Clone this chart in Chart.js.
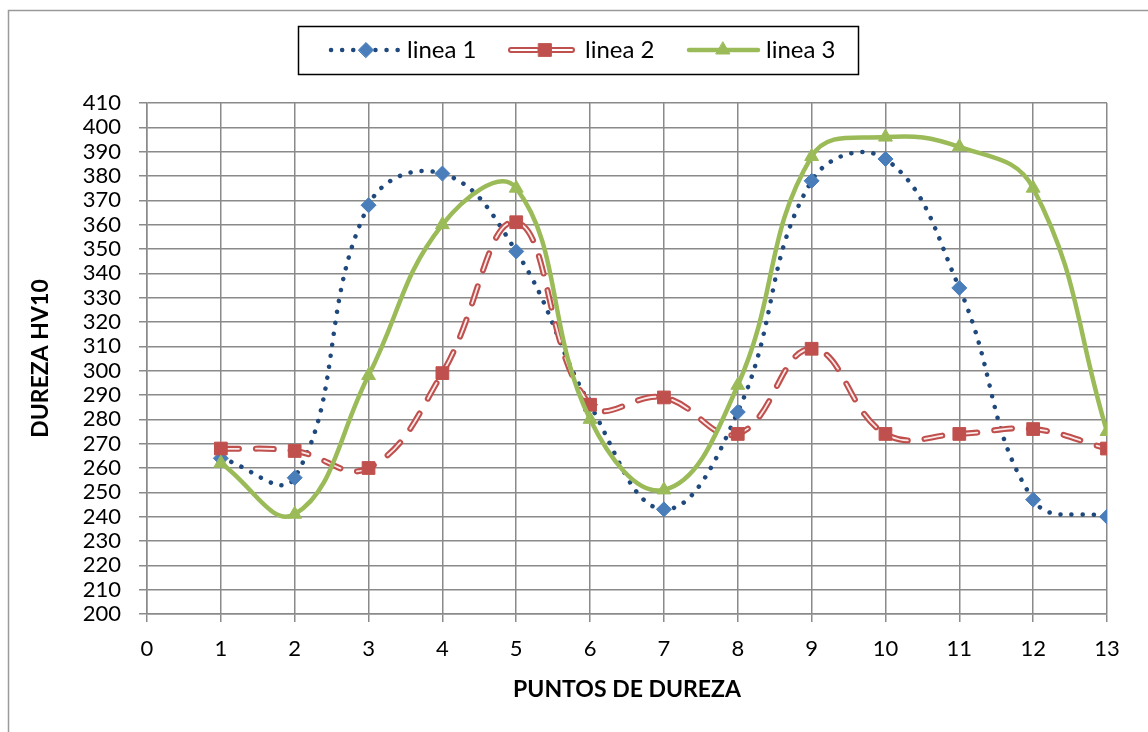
<!DOCTYPE html>
<html>
<head>
<meta charset="utf-8">
<script src="https://cdn.jsdelivr.net/npm/chart.js"></script>
<style>
  body { margin: 0; background: #fff; }
  #wrap { width: 1148px; height: 732px; }
</style>
</head>
<body>
<div id="wrap"><canvas id="durezaChart" width="1148" height="732"></canvas></div>
<script>
// puntos de dureza (eje x) y valores HV10
const puntos = [1, 2, 3, 4, 5, 6, 7, 8, 9, 10, 11, 12, 13];
const linea1 = [264, 256, 368, 381, 349, 286, 243, 283, 378, 387, 334, 247, 240];
const linea2 = [268, 267, 260, 299, 361, 286, 289, 274, 309, 274, 274, 276, 268];
const linea3 = [262, 241, 298, 360, 375, 280, 251, 294, 388, 396, 392, 375, 275];
const serieNames = ['linea 1', 'linea 2', 'linea 3'];

const xTicks = { min: 0, max: 13, step: 1 };
const yTicks = { min: 200, max: 410, step: 10 };

const FONT = 'Lato, "Open Sans", sans-serif';
const GRID = '#8a8a8a';
const BLUE_LINE = '#1F497D';
const BLUE_MARK = '#4A7EBB';
const RED = '#C0504D';
const GREEN = '#9BBB59';
const SMOOTH = 0.42;

function pts(values) {
    return values.map((v, i) => ({ x: puntos[i], y: v }));
}

// frame around the whole chart + boxed legend like excel
const excelLook = {
    id: 'excelLook',
    beforeDraw(chart) {
        const ctx = chart.ctx;
        ctx.save();
        ctx.fillStyle = '#fff';
        ctx.fillRect(0, 0, chart.width, chart.height);
        ctx.strokeStyle = '#9a9a9a';
        ctx.lineWidth = 1.5;
        ctx.strokeRect(8.5, 10.5, 1400, 900);
        ctx.restore();
    },
    afterDraw(chart) {
        const ctx = chart.ctx;
        const y = 50;
        ctx.save();
        ctx.strokeStyle = '#000';
        ctx.lineWidth = 1.5;
        ctx.strokeRect(298.5, 26.5, 560, 48);

        // linea 1
        ctx.strokeStyle = BLUE_LINE;
        ctx.lineWidth = 4.5;
        ctx.lineCap = 'round';
        ctx.setLineDash([0.1, 11]);
        ctx.beginPath(); ctx.moveTo(331, y); ctx.lineTo(398, y); ctx.stroke();
        ctx.setLineDash([]);
        ctx.fillStyle = BLUE_MARK; ctx.strokeStyle = BLUE_MARK; ctx.lineWidth = 1;
        Chart.helpers.drawPoint(ctx, { pointStyle: 'rectRot', radius: 7.5, borderWidth: 1, rotation: 0 }, 366, y);

        // linea 2
        [[511, 537], [552, 572]].forEach(([a, b]) => {
            ctx.strokeStyle = RED; ctx.lineWidth = 6;
            ctx.beginPath(); ctx.moveTo(a, y); ctx.lineTo(b, y); ctx.stroke();
            ctx.strokeStyle = '#fff'; ctx.lineWidth = 1.8;
            ctx.beginPath(); ctx.moveTo(a, y); ctx.lineTo(b, y); ctx.stroke();
        });
        ctx.fillStyle = RED; ctx.strokeStyle = RED; ctx.lineWidth = 1;
        Chart.helpers.drawPoint(ctx, { pointStyle: 'rect', radius: 9, borderWidth: 1, rotation: 0 }, 545, y);

        // linea 3
        ctx.strokeStyle = GREEN; ctx.lineWidth = 4.5; ctx.lineCap = 'round';
        ctx.beginPath(); ctx.moveTo(689, y); ctx.lineTo(758, y); ctx.stroke();
        ctx.fillStyle = GREEN; ctx.lineWidth = 1;
        Chart.helpers.drawPoint(ctx, { pointStyle: 'triangle', radius: 8, borderWidth: 1, rotation: 0 }, 723, y);

        ctx.fillStyle = '#000';
        ctx.font = '24px ' + FONT;
        ctx.textBaseline = 'middle';
        ctx.textAlign = 'left';
        ctx.fillText(serieNames[0], 407, y);
        ctx.fillText(serieNames[1], 585, y);
        ctx.fillText(serieNames[2], 766, y);
        ctx.restore();
    }
};

const ctx = document.getElementById('durezaChart').getContext('2d');
const chart = new Chart(ctx, {
    type: 'line',
    data: {
        datasets: [{
            label: serieNames[0],
            data: pts(linea1),
            borderColor: BLUE_LINE,
            borderWidth: 4.5,
            borderDash: [0.1, 11],
            borderCapStyle: 'round',
            pointStyle: 'rectRot',
            pointRadius: 7.5,
            pointBackgroundColor: BLUE_MARK,
            pointBorderColor: BLUE_MARK,
            pointBorderWidth: 1,
            tension: SMOOTH,
            order: 5
        }, {
            label: serieNames[1],
            data: pts(linea2),
            borderColor: RED,
            borderWidth: 6,
            borderDash: [18, 17],
            borderCapStyle: 'round',
            pointRadius: 0,
            tension: SMOOTH,
            order: 4
        }, {
            label: serieNames[1] + ' (centro)',
            data: pts(linea2),
            borderColor: '#fbeaea',
            borderWidth: 1.8,
            borderDash: [18, 17],
            borderCapStyle: 'round',
            pointRadius: 0,
            tension: SMOOTH,
            order: 3
        }, {
            label: serieNames[1] + ' (puntos)',
            data: pts(linea2),
            showLine: false,
            pointStyle: 'rect',
            pointRadius: 9,
            pointBackgroundColor: RED,
            pointBorderColor: RED,
            pointBorderWidth: 1,
            order: 2
        }, {
            label: serieNames[2],
            data: pts(linea3),
            borderColor: GREEN,
            borderWidth: 4.5,
            pointStyle: 'triangle',
            pointRadius: 8,
            pointBackgroundColor: GREEN,
            pointBorderColor: GREEN,
            pointBorderWidth: 1,
            tension: SMOOTH,
            order: 1
        }]
    },
    options: {
        responsive: false,
        animation: false,
        layout: { padding: { top: 103, right: 41, left: 0, bottom: 0 } },
        plugins: {
            legend: { display: false },
            tooltip: { enabled: false }
        },
        scales: {
            x: {
                type: 'linear',
                min: xTicks.min,
                max: xTicks.max,
                afterFit: s => { s.height = 118; },
                ticks: {
                    stepSize: xTicks.step,
                    padding: 14,
                    color: '#000',
                    font: { family: FONT, size: 22 }
                },
                grid: { color: GRID, lineWidth: 1.5, tickLength: 8 },
                border: { color: GRID, width: 1.5 },
                title: {
                    display: true,
                    text: 'PUNTOS DE DUREZA',
                    color: '#000',
                    font: { family: FONT, size: 23, weight: 'bold' },
                    padding: { bottom: 29 }
                }
            },
            y: {
                min: yTicks.min,
                max: yTicks.max,
                afterFit: s => { s.width = 147; },
                ticks: {
                    stepSize: yTicks.step,
                    padding: 18,
                    color: '#000',
                    autoSkip: false,
                    font: { family: FONT, size: 22 }
                },
                grid: { color: GRID, lineWidth: 1.5, tickLength: 8 },
                border: { color: GRID, width: 1.5 },
                title: {
                    display: true,
                    text: 'DUREZA HV10',
                    color: '#000',
                    font: { family: FONT, size: 23, weight: 'bold' },
                    padding: { top: 27 }
                }
            }
        }
    },
    plugins: [excelLook]
});
</script>
</body>
</html>
